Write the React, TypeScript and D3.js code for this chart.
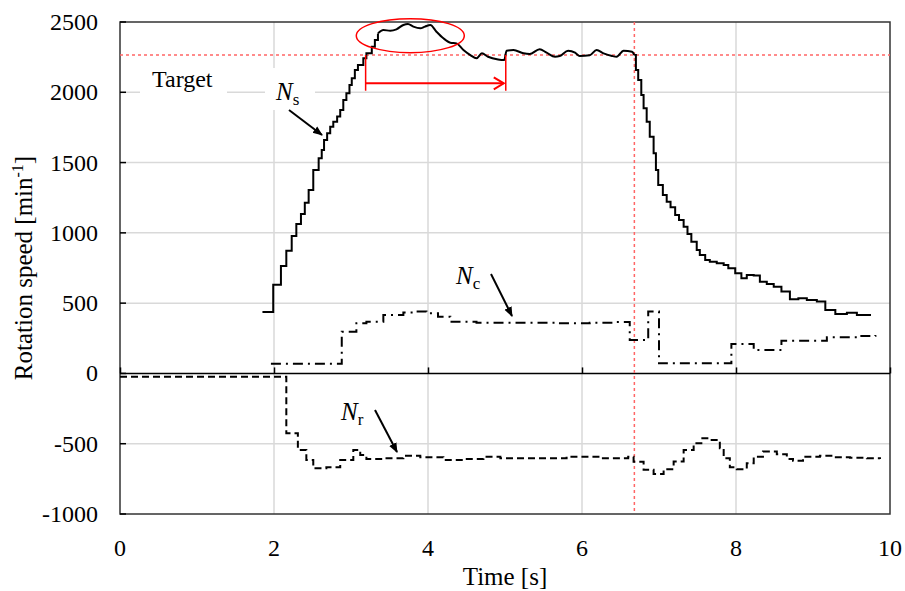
import { useEffect, useRef } from 'react';
import * as d3 from 'd3';

// time [s], rotation speed [min^-1]
const nsData: [number, number][] = [
  [1.85, 437], [1.99, 630], [2.09, 765], [2.16, 873], [2.23, 978], [2.29, 1063], [2.35, 1134],
  [2.4, 1215], [2.45, 1305], [2.51, 1447], [2.58, 1531], [2.62, 1590], [2.65, 1661], [2.69, 1708],
  [2.73, 1755], [2.77, 1791], [2.82, 1827], [2.86, 1874], [2.9, 1945], [2.94, 1993], [2.98, 2052],
  [3.01, 2100], [3.05, 2159], [3.09, 2194], [3.16, 2242], [3.2, 2277], [3.27, 2324], [3.31, 2372],
  [3.35, 2419], [3.42, 2443], [3.51, 2438], [3.59, 2448], [3.68, 2479], [3.74, 2486], [3.81, 2467],
  [3.9, 2455], [3.96, 2467], [4.03, 2479], [4.11, 2431], [4.2, 2384], [4.29, 2353], [4.37, 2348],
  [4.46, 2301], [4.55, 2265], [4.63, 2242], [4.7, 2277], [4.78, 2253], [4.91, 2234], [4.99, 2230],
  [5.02, 2296], [5.11, 2301], [5.24, 2277], [5.32, 2272], [5.45, 2306], [5.54, 2282], [5.65, 2253],
  [5.71, 2258], [5.82, 2296], [5.91, 2282], [5.97, 2258], [6.1, 2263], [6.19, 2301], [6.28, 2277],
  [6.39, 2258], [6.45, 2253], [6.54, 2296], [6.65, 2289], [6.68, 2265], [6.7, 2159], [6.73, 2088],
  [6.77, 1981], [6.8, 1886], [6.84, 1791], [6.88, 1684], [6.93, 1566], [6.96, 1447], [6.99, 1341],
  [7.05, 1270], [7.1, 1222], [7.15, 1182], [7.21, 1127], [7.26, 1092], [7.32, 1044], [7.37, 992],
  [7.42, 937], [7.49, 878], [7.53, 843], [7.6, 807], [7.66, 795], [7.75, 784], [7.84, 772],
  [7.9, 748], [7.99, 713], [8.07, 677], [8.14, 701], [8.23, 696], [8.31, 653], [8.4, 637],
  [8.49, 617], [8.59, 582], [8.7, 527], [8.81, 535], [8.92, 523], [9.05, 511], [9.16, 452],
  [9.29, 423], [9.44, 432], [9.57, 416], [9.74, 409],
];

const ncData: [number, number][] = [
  [1.96, 68], [2.88, 297], [3.07, 357], [3.2, 368], [3.42, 416], [3.68, 433], [3.81, 440],
  [3.98, 428], [4.13, 404], [4.29, 368], [4.63, 361], [5.15, 361], [5.67, 357], [6.1, 361],
  [6.4, 365], [6.62, 238], [6.86, 440], [7.0, 72], [7.94, 210], [8.23, 167], [8.59, 233],
  [9.18, 257], [9.57, 267], [9.81, 274],
];

const nrData: [number, number][] = [
  [0, -23], [2.16, -425], [2.31, -544], [2.42, -615], [2.51, -674], [2.68, -667], [2.86, -615],
  [3.03, -544], [3.12, -580], [3.2, -608], [3.42, -603], [3.68, -585], [3.9, -596], [4.2, -615],
  [4.46, -608], [4.72, -592], [4.94, -603], [5.37, -603], [5.8, -592], [6.23, -603], [6.6, -592],
  [6.67, -628], [6.8, -686], [6.93, -715], [7.06, -681], [7.19, -627], [7.32, -544], [7.45, -497],
  [7.55, -461], [7.66, -473], [7.79, -532], [7.84, -603], [7.92, -667], [8.01, -681], [8.14, -639],
  [8.23, -592], [8.35, -556], [8.53, -575], [8.66, -608], [8.74, -622], [8.87, -592], [9.09, -585],
  [9.26, -596], [9.48, -599], [9.7, -603], [9.87, -608],
];

const xTicks = [0, 2, 4, 6, 8, 10];
const yTicks = [-1000, -500, 0, 500, 1000, 1500, 2000, 2500];

const targetSpeed = 2265;
const switchTime = 6.68;
const plateau = [3.35, 6.68];
const overshootTime = 3.77;
const overshootSpeed = 2403;
const settleStart = 3.19;
const settleEnd = 5.01;
const settleArrowSpeed = 2064;
const settleFootSpeed = 2011;

const font = 'Times New Roman, Liberation Serif, DejaVu Serif, serif';

export default function App() {
  const ref = useRef<SVGSVGElement>(null);

  useEffect(() => {
    const width = 905;
    const height = 591;
    const svg = d3.select(ref.current);
    svg.selectAll('*').remove();
    svg.attr('viewBox', `0 0 ${width} ${height}`);

    const x = d3.scaleLinear().domain([0, 10]).range([120, 890]);
    const y = d3.scaleLinear().domain([-1000, 2500]).range([514, 22]);

    const defs = svg.append('defs');
    defs
      .append('marker')
      .attr('id', 'blackHead')
      .attr('viewBox', '0 0 10 10')
      .attr('refX', 9)
      .attr('refY', 5)
      .attr('markerWidth', 10)
      .attr('markerHeight', 10)
      .attr('markerUnits', 'userSpaceOnUse')
      .attr('orient', 'auto')
      .append('path')
      .attr('d', 'M0,1 L10,5 L0,9 Z')
      .attr('fill', '#000');

    // grid
    svg
      .append('g')
      .selectAll('line')
      .data(xTicks.filter((t) => t > 0 && t < 10))
      .join('line')
      .attr('x1', (t) => x(t))
      .attr('x2', (t) => x(t))
      .attr('y1', y(2500))
      .attr('y2', y(-1000))
      .attr('stroke', '#d9d9d9')
      .attr('stroke-width', 1.5);

    svg
      .append('g')
      .selectAll('line')
      .data(yTicks.filter((v) => v !== 0 && v > -1000 && v < 2500))
      .join('line')
      .attr('x1', x(0))
      .attr('x2', x(10))
      .attr('y1', (v) => y(v))
      .attr('y2', (v) => y(v))
      .attr('stroke', '#d9d9d9')
      .attr('stroke-width', 1.5);

    // label backgrounds
    svg.append('rect').attr('x', 140).attr('y', 64).attr('width', 87).attr('height', 34).attr('fill', '#fff');
    svg.append('rect').attr('x', 265).attr('y', 68).attr('width', 50).attr('height', 42).attr('fill', '#fff');

    // frame
    svg
      .append('rect')
      .attr('x', x(0))
      .attr('y', y(2500))
      .attr('width', x(10) - x(0))
      .attr('height', y(-1000) - y(2500))
      .attr('fill', 'none')
      .attr('stroke', '#333')
      .attr('stroke-width', 1.5);

    // zero axis with ticks
    const zero = svg.append('g').attr('transform', `translate(0,${y(0)})`);
    zero
      .call(d3.axisTop(x).tickValues(xTicks).tickSize(6).tickFormat(() => ''))
      .call((axis) => axis.selectAll('line').attr('stroke', '#000').attr('stroke-width', 1.5))
      .call((axis) => axis.select('.domain').attr('stroke', '#000').attr('stroke-width', 1.5).attr('d', `M${x(0)},0H${x(10)}`));

    // y ticks pointing inward
    svg
      .append('g')
      .selectAll('line')
      .data(yTicks)
      .join('line')
      .attr('x1', x(0))
      .attr('x2', x(0) + 6)
      .attr('y1', (v) => y(v))
      .attr('y2', (v) => y(v))
      .attr('stroke', '#000')
      .attr('stroke-width', 1.5);

    const texts = svg.append('g').attr('font-family', font).attr('fill', '#000');

    // tick labels
    texts
      .append('g')
      .selectAll('text')
      .data(yTicks)
      .join('text')
      .attr('x', 98)
      .attr('y', (v) => y(v) + 8)
      .attr('text-anchor', 'end')
      .attr('font-size', 24)
      .text((v) => v);

    texts
      .append('g')
      .selectAll('text')
      .data(xTicks)
      .join('text')
      .attr('x', (t) => x(t))
      .attr('y', 556)
      .attr('text-anchor', 'middle')
      .attr('font-size', 24)
      .text((t) => t);

    // axis titles
    texts
      .append('text')
      .attr('x', x(5))
      .attr('y', 585)
      .attr('text-anchor', 'middle')
      .attr('font-size', 25)
      .text('Time [s]');

    const yTitle = texts
      .append('text')
      .attr('transform', `translate(32,${y(750)}) rotate(-90)`)
      .attr('text-anchor', 'middle')
      .attr('font-size', 25);
    yTitle.append('tspan').text('Rotation speed [min');
    yTitle.append('tspan').attr('font-size', 16).attr('dy', -9).text('-1');
    yTitle.append('tspan').attr('dy', 9).text(']');

    // red reference lines
    svg
      .append('line')
      .attr('x1', x(0))
      .attr('x2', x(10))
      .attr('y1', y(targetSpeed))
      .attr('y2', y(targetSpeed))
      .attr('stroke', '#ff6666')
      .attr('stroke-width', 1.5)
      .attr('stroke-dasharray', '3 3');

    svg
      .append('line')
      .attr('x1', x(switchTime))
      .attr('x2', x(switchTime))
      .attr('y1', y(2500))
      .attr('y2', y(-1000))
      .attr('stroke', '#ff6666')
      .attr('stroke-width', 1.5)
      .attr('stroke-dasharray', '3 3');

    const stepLine = d3
      .line<[number, number]>()
      .x((d) => x(d[0]))
      .y((d) => y(d[1]))
      .curve(d3.curveStepAfter);

    const smoothLine = d3
      .line<[number, number]>()
      .x((d) => x(d[0]))
      .y((d) => y(d[1]))
      .curve(d3.curveMonotoneX);

    svg
      .append('path')
      .attr('d', stepLine(nrData))
      .attr('fill', 'none')
      .attr('stroke', '#000')
      .attr('stroke-width', 2)
      .attr('stroke-dasharray', '7 4');

    svg
      .append('path')
      .attr('d', stepLine(ncData))
      .attr('fill', 'none')
      .attr('stroke', '#000')
      .attr('stroke-width', 2)
      .attr('stroke-dasharray', '10 5 2 5');

    // Ns: stepped during run-up and run-down, smooth on the plateau
    const nsGroup = svg.append('g').attr('fill', 'none').attr('stroke', '#000').attr('stroke-width', 2);
    nsGroup.append('path').attr('d', stepLine(nsData.filter((d) => d[0] <= plateau[0])));
    nsGroup.append('path').attr('d', smoothLine(nsData.filter((d) => d[0] >= plateau[0] && d[0] <= plateau[1])));
    nsGroup.append('path').attr('d', stepLine(nsData.filter((d) => d[0] >= plateau[1])));

    // overshoot ellipse and settling arrow
    svg
      .append('ellipse')
      .attr('cx', x(overshootTime))
      .attr('cy', y(overshootSpeed))
      .attr('rx', 54)
      .attr('ry', 17)
      .attr('fill', 'none')
      .attr('stroke', '#ff0000')
      .attr('stroke-width', 1.5);

    const red = svg.append('g').attr('stroke', '#ff0000').attr('fill', 'none');
    [settleStart, settleEnd].forEach((t) => {
      red
        .append('line')
        .attr('x1', x(t))
        .attr('x2', x(t))
        .attr('y1', y(targetSpeed))
        .attr('y2', y(settleFootSpeed))
        .attr('stroke-width', 1.5);
    });
    red
      .append('line')
      .attr('x1', x(settleStart))
      .attr('x2', x(settleEnd) - 2)
      .attr('y1', y(settleArrowSpeed))
      .attr('y2', y(settleArrowSpeed))
      .attr('stroke-width', 2);
    red
      .append('path')
      .attr('d', `M${x(settleEnd) - 12},${y(settleArrowSpeed) - 6} L${x(settleEnd) - 2},${y(settleArrowSpeed)} L${x(settleEnd) - 12},${y(settleArrowSpeed) + 6}`)
      .attr('stroke-width', 2);

    // labels
    texts
      .append('text')
      .attr('x', 152)
      .attr('y', 87)
      .attr('font-size', 24)
      .text('Target');

    const seriesLabels = [
      { name: 'N', sub: 's', x: 276, y: 100, from: [289, 110], to: [322, 135] },
      { name: 'N', sub: 'c', x: 456, y: 284, from: [491, 274], to: [512, 316] },
      { name: 'N', sub: 'r', x: 341, y: 420, from: [375, 410], to: [397, 452] },
    ];

    seriesLabels.forEach((l) => {
      const t = texts
        .append('text')
        .attr('x', l.x)
        .attr('y', l.y)
        .attr('font-size', 25);
      t.append('tspan').attr('font-style', 'italic').text(l.name);
      t.append('tspan').attr('font-size', 17).attr('dy', 5).text(l.sub);

      svg
        .append('line')
        .attr('x1', l.from[0])
        .attr('y1', l.from[1])
        .attr('x2', l.to[0])
        .attr('y2', l.to[1])
        .attr('stroke', '#000')
        .attr('stroke-width', 2)
        .attr('marker-end', 'url(#blackHead)');
    });
  }, []);

  return (
    <svg
      ref={ref}
      width={905}
      height={591}
      style={{ position: 'absolute', left: 0, top: 0, background: '#fff' }}
      role="img"
      aria-label="Rotation speed over time"
    />
  );
}
